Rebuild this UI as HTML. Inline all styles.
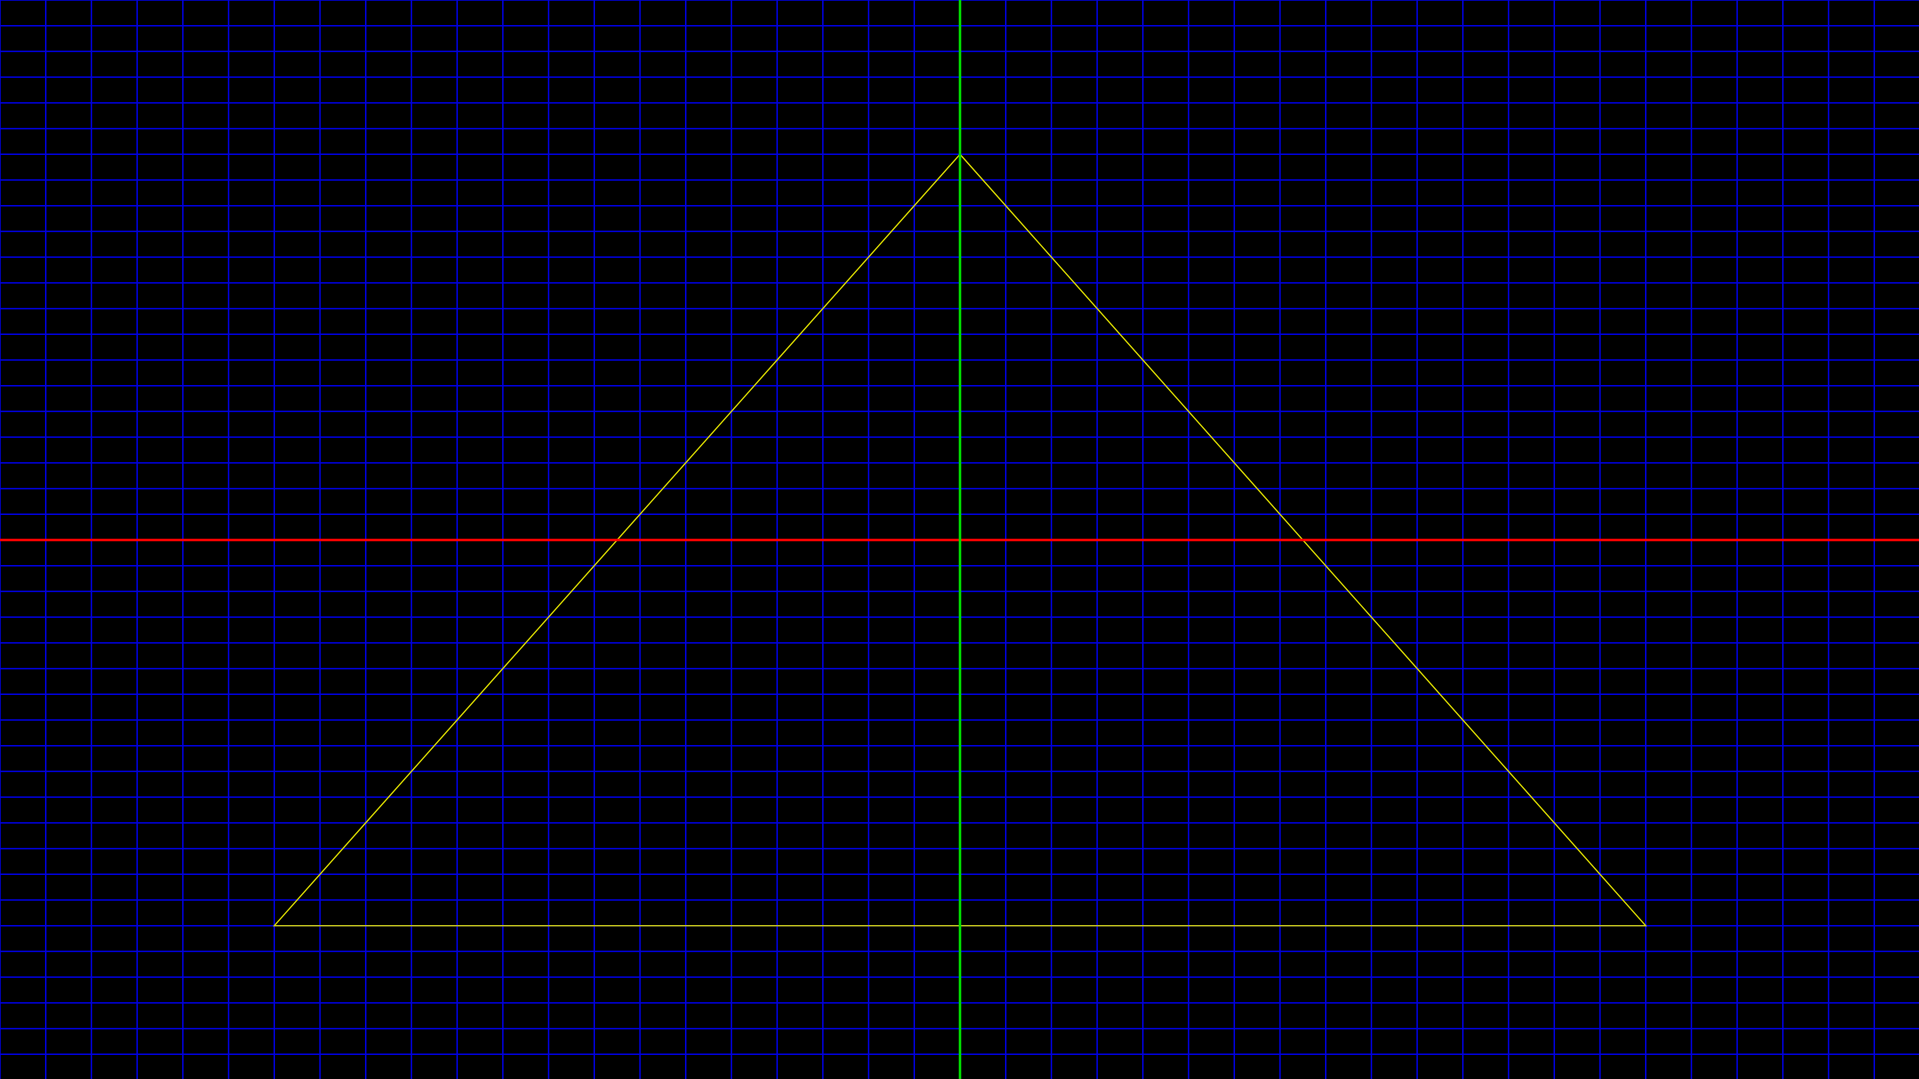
<!DOCTYPE html>
<html><head><meta charset="utf-8"><style>html,body{margin:0;padding:0;background:#000;overflow:hidden}svg{display:block}</style></head>
<body>
<svg id="chart" width="1919" height="1079" viewBox="0 0 1919 1079" xmlns="http://www.w3.org/2000/svg">
<rect width="1919" height="1079" fill="#000"/>
<g id="grid"></g>
<g id="shapes"></g>
<g id="axes"></g>
</svg>
<script>
const gridRange = [-21, 21];
const triangleX = [0, -15, 15];
const triangleY = [15, -15, -15];
const W = 1919, H = 1079, cx = 960, cy = 540, ux = 960/21, uy = 540/21;
function sx(v){return cx + v*ux;}
function sy(v){return cy - v*uy;}
const NS = 'http://www.w3.org/2000/svg';
function line(g,x1,y1,x2,y2,c,w){const l=document.createElementNS(NS,'line');l.setAttribute('x1',x1);l.setAttribute('y1',y1);l.setAttribute('x2',x2);l.setAttribute('y2',y2);l.setAttribute('stroke',c);l.setAttribute('stroke-width',w);g.appendChild(l);return l;}
const grid=document.getElementById('grid');
for(let i=gridRange[0];i<=gridRange[1];i++){
  const v=line(grid,sx(i),0,sx(i),H,'#0000e0',1.5);
  
  
  const h=line(grid,0,sy(i),W,sy(i),'#0000e0',1.5);
  
  
}
const axes=document.getElementById('axes');
const xa=line(axes,0,sy(0),W,sy(0),'#ff0000',2.5);


const ya=line(axes,sx(0),0,sx(0),H,'#00e000',2.5);


const shapes=document.getElementById('shapes');
const tri=document.createElementNS(NS,'polygon');
tri.setAttribute('points',triangleX.map((x,i)=>sx(x)+','+sy(triangleY[i])).join(' '));
tri.setAttribute('fill','none');
tri.setAttribute('stroke','#e0e000');
tri.setAttribute('stroke-width','1.3');


shapes.appendChild(tri);
</script>
</body></html>
